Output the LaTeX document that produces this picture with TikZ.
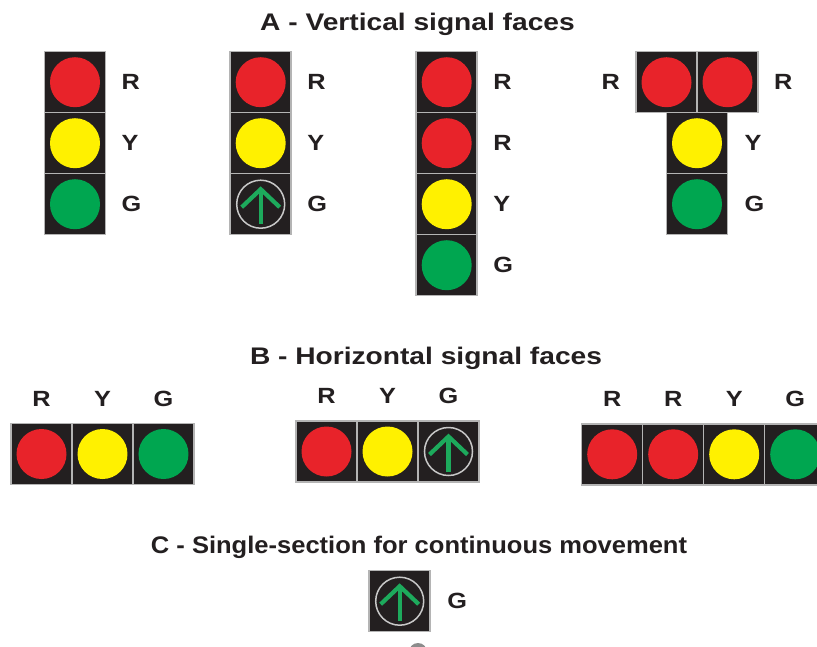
\documentclass[tikz,border=0pt]{standalone}
\usepackage{fontspec}
\setmainfont{Liberation Sans}[FakeStretch=1.15]
\usepackage{graphicx}
\usepackage{tikz}
\usetikzlibrary{positioning, matrix}
\definecolor{sigred}{HTML}{E8232A}
\definecolor{sigyellow}{HTML}{FFF100}
\definecolor{siggreen}{HTML}{00A650}
\definecolor{arrowgreen}{HTML}{1DAA5C}
\definecolor{faceblack}{HTML}{231F20}
\definecolor{facegrey}{HTML}{B4B4B4}
\definecolor{ringgrey}{HTML}{C8C8C8}
\definecolor{dotgrey}{HTML}{8C8C8C}
\definecolor{ink}{HTML}{231F20}

\begin{document}
\begin{tikzpicture}[x=1pt, y=-1pt,
    face/.style={matrix of nodes, ampersand replacement=\&, nodes in empty cells,
        inner sep=0pt, outer sep=0pt,
        nodes={draw=facegrey, line width=1.5pt, fill=faceblack, minimum size=61pt, inner sep=0pt, anchor=center},
        column sep=-1.5pt, row sep=-1.5pt},
    lampR/.style={path picture={\fill[sigred] (path picture bounding box.center) circle (25pt);}},
    lampY/.style={path picture={\fill[sigyellow] (path picture bounding box.center) circle (25pt);}},
    lampG/.style={path picture={\fill[siggreen] (path picture bounding box.center) circle (25pt);}},
    lampA/.style={path picture={
        \draw[ringgrey, line width=1.5pt] (path picture bounding box.center) circle (24pt);
        \draw[arrowgreen, line width=4.2pt] ([yshift=-20pt]path picture bounding box.center) -- ([yshift=14pt]path picture bounding box.center);
        \draw[arrowgreen, line width=4.2pt] ([shift={(-19pt,-3pt)}]path picture bounding box.center)
            -- ([yshift=15pt]path picture bounding box.center) -- ([shift={(19pt,-3pt)}]path picture bounding box.center);}},
    lbl/.style={inner sep=0pt, text=ink, font=\fontsize{22}{22}\selectfont\bfseries},
    heading/.style={anchor=base, inner sep=0pt, text=ink, font=\fontsize{24}{24}\selectfont\bfseries}
]
    \useasboundingbox[fill=white] (0,0) rectangle (817,646);

    % A - vertical faces
    \node[heading] (titleA) at (417.5,30) {\scalebox{1.02}[1]{A - Vertical signal faces}};
    \matrix[face] (VA) at (75,143.2) { |[lampR]| \\ |[lampY]| \\ |[lampG]| \\ };
    \node[lbl, right=16pt of VA-1-1] {R};
    \node[lbl, right=16pt of VA-2-1] {Y};
    \node[lbl, right=16pt of VA-3-1] {G};

    \matrix[face] (VB) at (260.7,143.2) { |[lampR]| \\ |[lampY]| \\ |[lampA]| \\ };
    \node[lbl, right=16pt of VB-1-1] {R};
    \node[lbl, right=16pt of VB-2-1] {Y};
    \node[lbl, right=16pt of VB-3-1] {G};

    \matrix[face] (VC) at (446.7,173.7) { |[lampR]| \\ |[lampR]| \\ |[lampY]| \\ |[lampG]| \\ };
    \node[lbl, right=16pt of VC-1-1] {R};
    \node[lbl, right=16pt of VC-2-1] {R};
    \node[lbl, right=16pt of VC-3-1] {Y};
    \node[lbl, right=16pt of VC-4-1] {G};

    \matrix[face] (VDt) at (697,82.2) { |[lampR]| \& |[lampR]| \\ };
    \matrix[face, below=-1.5pt of VDt] (VDc) { |[lampY]| \\ |[lampG]| \\ };
    \node[lbl, left=16pt of VDt-1-1] {R};
    \node[lbl, right=16pt of VDt-1-2] {R};
    \node[lbl, right=17pt of VDc-1-1] {Y};
    \node[lbl, right=17pt of VDc-2-1] {G};

    % B - horizontal faces
    \node[heading] (titleB) at (426,364.3) {\scalebox{1.02}[1]{B - Horizontal signal faces}};
    \matrix[face] (HA) at (102.5,454) { |[lampR]| \& |[lampY]| \& |[lampG]| \\ };
    \node[lbl, above=17pt of HA-1-1] {R};
    \node[lbl, above=17pt of HA-1-2] {Y};
    \node[lbl, above=17pt of HA-1-3] {G};

    \matrix[face] (HB) at (387.5,451.5) { |[lampR]| \& |[lampY]| \& |[lampA]| \\ };
    \node[lbl, above=17pt of HB-1-1] {R};
    \node[lbl, above=17pt of HB-1-2] {Y};
    \node[lbl, above=17pt of HB-1-3] {G};

    \matrix[face] (HC) at (703.7,454.3) { |[lampR]| \& |[lampR]| \& |[lampY]| \& |[lampG]| \\ };
    \node[lbl, above=17pt of HC-1-1] {R};
    \node[lbl, above=17pt of HC-1-2] {R};
    \node[lbl, above=17pt of HC-1-3] {Y};
    \node[lbl, above=17pt of HC-1-4] {G};

    % C - single section
    \node[heading] (titleC) at (419,553.3) {\scalebox{0.925}[1]{C - Single-section for continuous movement}};
    \matrix[face] (S) at (399.7,601.2) { |[lampA]| \\ };
    \node[lbl, right=17pt of S-1-1] {G};
    \fill[dotgrey] (418,652) circle (9pt);
\end{tikzpicture}
\end{document}
